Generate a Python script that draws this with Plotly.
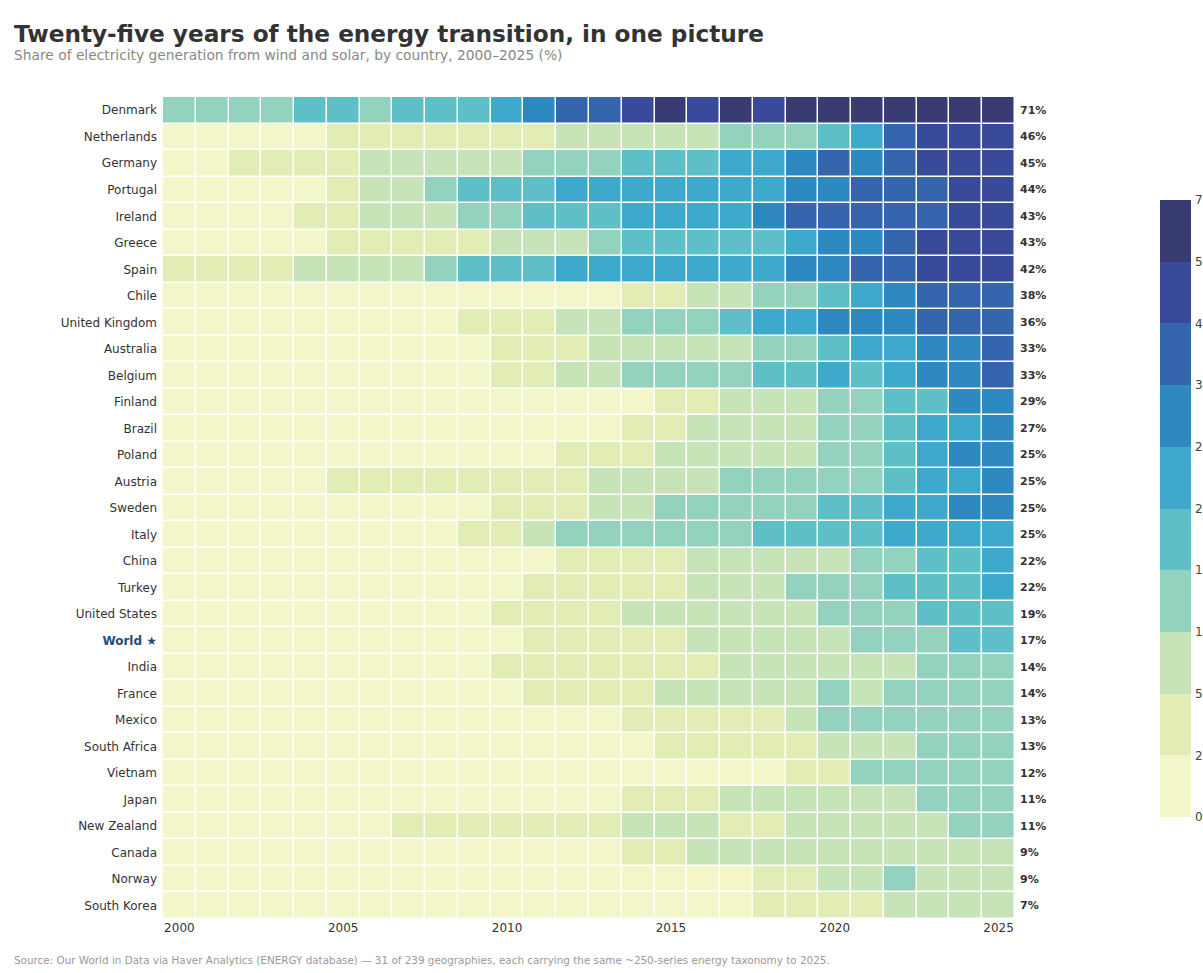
import numpy as np
import plotly.graph_objects as go

years = list(range(2000, 2026))

countries = ["Denmark", "Netherlands", "Germany", "Portugal", "Ireland", "Greece", "Spain",
             "Chile", "United Kingdom", "Australia", "Belgium", "Finland", "Brazil", "Poland",
             "Austria", "Sweden", "Italy", "China", "Turkey", "United States", "World",
             "India", "France", "Mexico", "South Africa", "Vietnam", "Japan", "New Zealand",
             "Canada", "Norway", "South Korea"]

denmark = [12.1,12.4,13.8,14.2,18.8,18.5,14.9,19.6,19.1,19.4,21.9,28.3,33.6,36.2,43.8,51.2,46.7,52.8,47.9,54.6,61.8,52.3,58.9,63.4,67.2,71.0]
netherlands = [1.1,1.2,1.3,1.5,1.9,2.4,3.1,3.5,4.0,4.3,4.1,4.9,5.6,6.3,6.8,7.9,8.6,10.2,12.1,14.4,19.3,24.1,33.9,42.5,44.6,46.0]
germany = [1.7,1.9,2.8,3.4,4.1,4.5,5.2,6.8,7.1,7.6,8.5,11.9,13.1,13.9,16.5,19.1,18.3,22.4,23.9,27.2,30.4,27.8,31.7,41.1,42.9,45.0]
portugal = [0.3,0.4,0.6,0.9,1.6,3.8,6.5,8.9,13.2,16.4,18.9,19.8,24.2,23.8,24.6,22.9,24.1,23.5,24.8,26.7,28.9,32.6,34.7,38.2,41.9,44.0]
ireland = [1.0,1.4,1.5,1.8,2.3,4.2,6.1,7.8,9.4,10.9,10.7,16.1,15.3,17.4,20.2,22.5,21.3,24.9,28.6,31.8,35.9,31.2,35.4,37.5,40.6,43.0]
greece = [0.7,0.9,1.1,1.4,1.6,2.4,3.2,3.5,3.8,4.3,5.1,6.9,9.8,13.6,15.7,16.4,17.1,18.2,19.4,22.8,29.1,29.8,36.2,41.4,42.8,43.0]
spain = [2.1,3.1,3.6,4.6,6.2,7.7,8.4,9.6,11.8,15.3,17.8,19.2,20.9,22.4,21.4,21.1,21.6,21.3,22.1,25.4,29.3,32.7,38.5,41.2,43.6,42.0]
chile = [0.0,0.0,0.0,0.0,0.0,0.0,0.0,0.1,0.2,0.2,0.3,0.5,0.8,1.4,2.9,4.2,6.3,8.4,10.6,12.3,17.4,21.9,27.6,33.1,36.4,38.0]
united_kingdom = [0.2,0.3,0.3,0.4,0.6,0.8,1.1,1.3,1.8,2.4,2.8,4.4,5.7,8.4,10.2,13.9,14.6,18.7,20.9,23.4,28.7,25.3,28.9,30.8,33.7,36.0]
australia = [0.1,0.1,0.2,0.3,0.4,0.5,0.7,0.9,1.1,1.6,2.3,2.9,3.7,5.3,6.1,6.9,7.6,8.9,11.4,14.6,18.9,22.8,24.9,27.3,29.6,33.0]
belgium = [0.0,0.0,0.1,0.1,0.2,0.3,0.5,0.7,1.0,1.8,2.6,4.4,6.2,8.3,10.4,11.9,12.1,13.6,15.2,16.9,21.8,19.4,23.5,27.1,29.8,33.0]
finland = [0.1,0.1,0.1,0.1,0.1,0.2,0.2,0.3,0.3,0.4,0.4,0.7,0.7,1.1,1.6,3.4,4.5,6.9,8.1,9.4,12.3,14.2,17.8,19.6,26.4,29.0]
brazil = [0.0,0.0,0.1,0.1,0.1,0.1,0.1,0.2,0.2,0.3,0.4,0.5,0.9,1.2,2.1,3.6,5.7,7.2,8.4,9.6,10.9,13.2,16.4,20.1,23.8,27.0]
poland = [0.0,0.0,0.0,0.1,0.1,0.1,0.2,0.3,0.5,0.7,1.1,1.9,2.9,3.8,4.9,6.7,7.4,8.9,7.8,9.7,12.6,14.2,19.4,24.9,28.1,25.3]
austria = [0.1,0.2,0.4,0.9,1.6,2.6,3.3,3.6,3.4,3.5,3.2,4.1,4.8,5.9,7.6,8.3,8.9,10.8,11.6,12.4,13.8,14.3,17.9,21.6,23.8,25.2]
sweden = [0.3,0.3,0.4,0.4,0.6,0.6,0.7,0.9,1.3,1.7,2.4,4.2,4.8,6.9,7.8,10.3,10.9,11.4,11.9,13.6,17.2,18.3,20.6,22.4,27.1,25.4]
italy = [0.2,0.4,0.5,0.5,0.7,0.8,1.0,1.2,1.5,2.3,3.3,6.9,10.8,12.4,13.1,13.6,13.8,14.5,15.1,15.9,16.8,17.4,20.6,21.9,23.3,24.7]
china = [0.0,0.0,0.0,0.0,0.0,0.1,0.1,0.2,0.4,0.7,1.2,1.6,2.1,2.8,3.1,3.9,5.0,6.1,7.6,8.6,9.5,11.7,13.5,15.6,18.9,22.0]
turkey = [0.0,0.0,0.0,0.0,0.0,0.0,0.1,0.1,0.4,0.7,1.4,2.1,2.6,3.1,3.7,4.6,6.2,7.4,8.8,10.4,11.9,13.8,15.5,17.4,19.2,22.0]
united_states = [0.2,0.2,0.3,0.3,0.4,0.5,0.7,0.9,1.4,1.9,2.4,3.2,3.9,4.7,5.3,5.7,6.8,7.9,8.5,9.4,11.1,12.9,14.4,15.6,17.3,19.0]
world = [0.2,0.3,0.3,0.4,0.5,0.6,0.7,0.9,1.2,1.5,1.9,2.4,2.9,3.4,3.9,4.6,5.2,6.0,6.9,8.1,9.4,10.5,12.1,13.4,15.2,17.0]
india = [0.6,0.7,0.8,0.9,1.0,1.2,1.4,1.6,1.8,1.9,2.2,2.6,2.9,3.2,3.4,3.8,4.6,5.6,6.8,7.5,8.4,8.9,9.6,10.8,12.6,14.0]
france = [0.0,0.0,0.0,0.1,0.1,0.2,0.4,0.7,1.0,1.5,1.9,2.9,3.6,3.9,4.2,5.2,5.7,6.4,7.6,8.9,10.2,9.6,11.3,12.6,13.4,14.0]
mexico = [0.0,0.0,0.0,0.0,0.0,0.0,0.0,0.1,0.2,0.4,0.5,0.7,1.1,1.4,2.1,2.7,3.3,3.9,4.8,7.6,11.2,12.5,12.9,13.6,12.8,13.0]
south_africa = [0.0,0.0,0.0,0.0,0.0,0.0,0.0,0.0,0.0,0.0,0.0,0.1,0.1,0.6,1.4,2.2,2.7,3.4,4.2,4.6,5.6,6.8,7.9,10.6,12.2,13.0]
vietnam = [0.0,0.0,0.0,0.0,0.0,0.0,0.0,0.0,0.0,0.0,0.1,0.1,0.1,0.1,0.1,0.2,0.2,0.3,0.5,4.7,4.9,13.4,13.1,12.6,12.3,12.0]
japan = [0.1,0.1,0.2,0.2,0.3,0.3,0.3,0.4,0.4,0.5,0.6,0.7,0.9,1.7,2.8,3.9,4.8,5.9,6.8,7.6,8.9,9.3,9.8,10.5,10.9,11.0]
new_zealand = [0.4,0.5,0.6,0.6,0.8,1.1,1.6,2.4,3.6,4.1,4.4,4.6,4.7,4.8,5.1,5.3,5.2,4.9,4.8,5.3,5.6,6.1,7.4,8.6,10.4,11.0]
canada = [0.0,0.0,0.1,0.1,0.1,0.2,0.3,0.4,0.6,0.9,1.2,1.5,1.8,1.9,4.1,4.6,5.3,5.6,5.9,6.4,6.8,7.1,7.6,8.2,8.7,9.0]
norway = [0.0,0.0,0.0,0.0,0.1,0.4,0.5,0.7,0.7,0.7,0.7,1.0,1.0,1.3,1.6,1.6,1.7,1.9,2.7,3.6,6.4,7.9,10.2,9.1,8.8,9.0]
south_korea = [0.0,0.0,0.0,0.0,0.0,0.1,0.1,0.1,0.2,0.3,0.4,0.5,0.6,0.8,1.0,1.2,1.5,1.9,2.6,3.4,4.3,4.9,5.6,6.1,6.6,7.0]

rows = [denmark, netherlands, germany, portugal, ireland, greece, spain, chile, united_kingdom,
        australia, belgium, finland, brazil, poland, austria, sweden, italy, china, turkey,
        united_states, world, india, france, mexico, south_africa, vietnam, japan, new_zealand,
        canada, norway, south_korea]

bin_edges = [0, 2, 5, 10, 15, 20, 25, 30, 40, 50, 70]
bin_labels = [str(b) for b in bin_edges]
bin_colors = ["#f3f6c8", "#e2edb6", "#c6e4b8", "#92d2be", "#5fbfc8",
              "#3fa8cd", "#2e89c0", "#3565ad", "#3a4a9b", "#393c72"]

values = np.array(rows)
nb = len(bin_colors)
bins = np.clip(np.digitize(values, bin_edges[1:-1]), 0, nb - 1)
z = bins + 0.5

colorscale = []
for i, c in enumerate(bin_colors):
    colorscale.append([i / nb, c])
    colorscale.append([(i + 1) / nb, c])

font = "DejaVu Sans"

ticktext = []
for c in countries:
    if c == "World":
        ticktext.append("<b><span style='color:#2b4b73'>World ★</span></b>")
    else:
        ticktext.append(c)

# plot area in figure pixels
L, T, PW, PH = 163, 97, 852, 822
W, H = 1203, 973

fig = go.Figure()
fig.add_trace(go.Heatmap(
    z=z, x=years, y=countries,
    customdata=values,
    zmin=0, zmax=nb,
    colorscale=colorscale,
    xgap=1.5, ygap=1.5,
    hovertemplate="%{y} %{x}: %{customdata:.1f}%<extra></extra>",
    colorbar=dict(
        tickmode="array",
        tickvals=list(range(nb + 1)),
        ticktext=bin_labels,
        x=(1160 - L) / PW, xanchor="left", xpad=0,
        y=1 - (508.5 - T) / PH, yanchor="middle", ypad=0,
        len=617 / PH, lenmode="fraction",
        thickness=31,
        outlinewidth=0,
        ticks="outside", ticklen=2, tickcolor="rgba(0,0,0,0)",
        tickfont=dict(family=font, size=12, color="#444"),
    ),
))

annotations = []
for c, r in zip(countries, rows):
    annotations.append(dict(
        x=1, xref="paper", xanchor="left", xshift=3,
        y=c, yref="y", yanchor="middle",
        text=f"<b>{round(r[-1])}%</b>", showarrow=False,
        font=dict(family=font, size=11, color="#333"),
    ))

annotations.append(dict(
    x=(12 - L) / PW, xref="paper", xanchor="left",
    y=1 + (T - 55) / PH, yref="paper", yanchor="middle",
    text="Share of electricity generation from wind and solar, by country, 2000–2025 (%)",
    showarrow=False, font=dict(family=font, size=13.8, color="#888"),
))
annotations.append(dict(
    x=(12 - L) / PW, xref="paper", xanchor="left",
    y=-(960 - (T + PH)) / PH, yref="paper", yanchor="middle",
    text="Source: Our World in Data via Haver Analytics (ENERGY database) — 31 of 239 geographies, each carrying the same ~250-series energy taxonomy to 2025.",
    showarrow=False, font=dict(family=font, size=10.4, color="#999"),
))

fig.update_layout(
    width=W, height=H,
    margin=dict(l=L, r=W - L - PW, t=T, b=H - T - PH, autoexpand=False),
    paper_bgcolor="white", plot_bgcolor="white",
    font=dict(family=font, color="#333"),
    title=dict(
        text="<b>Twenty-five years of the energy transition, in one picture</b>",
        x=14 / W, xanchor="left", xref="container",
        y=1 - 34 / H, yanchor="middle", yref="container",
        font=dict(family=font, size=23.2, color="#333"),
    ),
    xaxis=dict(
        tickmode="array", tickvals=[2000, 2005, 2010, 2015, 2020, 2025],
        ticks="", showgrid=False, zeroline=False, showline=False,
        tickfont=dict(family=font, size=12, color="#333"),
    ),
    yaxis=dict(
        tickmode="array", tickvals=countries, ticktext=ticktext,
        autorange="reversed", ticks="", showgrid=False, zeroline=False,
        ticklabelstandoff=5,
        tickfont=dict(family=font, size=12, color="#333"),
    ),
    annotations=annotations,
)

fig.write_html(
    "out.html",
    config={"displayModeBar": False},
    post_script="document.documentElement.style.margin='0';document.body.style.margin='0';document.body.style.overflow='hidden';",
)
